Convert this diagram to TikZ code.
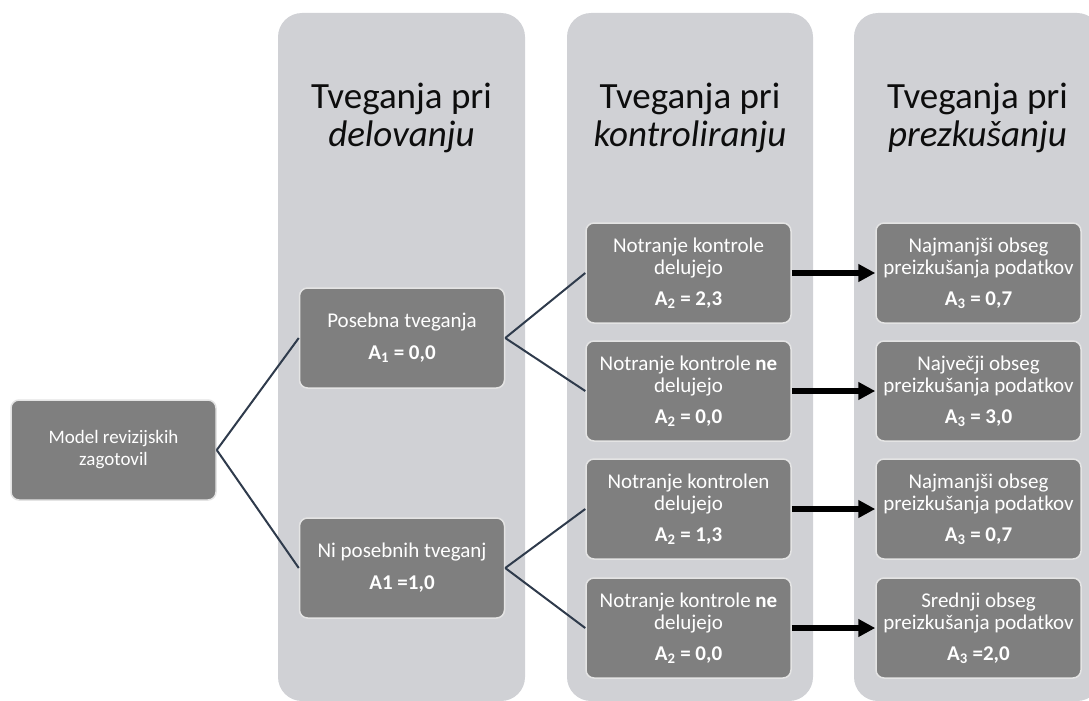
\documentclass[tikz,border=0pt]{standalone}
\usepackage{fontspec}
\setmainfont{Carlito}
\usepackage{tikz}
\usetikzlibrary{arrows.meta}

\definecolor{colgray}{HTML}{D0D1D5}
\definecolor{boxgray}{HTML}{7F7F7F}
\definecolor{boxedge}{HTML}{E4E4E4}
\definecolor{linenavy}{HTML}{2F3B4C}

\begin{document}
\begin{tikzpicture}[x=1pt,y=-1pt,
  column/.style={fill=colgray,rounded corners=24pt},
  title/.style={align=center,text=black!95,font=\fontsize{37}{38}\selectfont},
  box/.style={fill=boxgray,draw=boxedge,line width=1.5pt,rounded corners=8pt,
    minimum width=205pt,minimum height=100pt,inner sep=0pt,
    text=white,align=center,font=\fontsize{21}{22}\selectfont},
  link/.style={draw=linenavy,line width=2pt},
  push/.style={line width=6pt,-{Triangle[length=17pt,width=17pt]}}]
\useasboundingbox (0,0) rectangle (1089,701);
\clip (0,0) rectangle (1089,701);

% Columns
\fill[column] (278,13) rectangle (525,701);
\fill[column] (567,13) rectangle (813,701);
\fill[column] (854,13) rectangle (1101,701);

% Titles
\node[title] (t1) at (401.5,118) {Tveganja pri\\\textit{delovanju}};
\node[title] (t2) at (690,118) {Tveganja pri\\\textit{kontroliranju}};
\node[title] (t3) at (977.5,118) {Tveganja pri\\\textit{prezkušanju}};

% Root and first level
\node[box,font=\fontsize{19}{22}\selectfont] (model) at (113.5,450) {Model revizijskih\\zagotovil};
\node[box] (posebna) at (402,338) {Posebna tveganja\\[10pt]\textbf{A\textsubscript{1} = 0,0}};
\node[box] (niposeb) at (402,568) {Ni posebnih tveganj\\[10pt]\textbf{A1 =1,0}};

% Controls
\node[box] (k1) at (688.5,273) {Notranje kontrole\\delujejo\\[9pt]\textbf{A\textsubscript{2} = 2,3}};
\node[box] (k2) at (688.5,391) {Notranje kontrole \textbf{ne}\\delujejo\\[9pt]\textbf{A\textsubscript{2} = 0,0}};
\node[box] (k3) at (688.5,509) {Notranje kontrolen\\delujejo\\[9pt]\textbf{A\textsubscript{2} = 1,3}};
\node[box] (k4) at (688.5,628) {Notranje kontrole \textbf{ne}\\delujejo\\[9pt]\textbf{A\textsubscript{2} = 0,0}};

% Testing
\node[box] (p1) at (978.5,273) {Najmanjši obseg\\preizkušanja podatkov\\[9pt]\textbf{A\textsubscript{3} = 0,7}};
\node[box] (p2) at (978.5,391) {Največji obseg\\preizkušanja podatkov\\[9pt]\textbf{A\textsubscript{3} = 3,0}};
\node[box] (p3) at (978.5,509) {Najmanjši obseg\\preizkušanja podatkov\\[9pt]\textbf{A\textsubscript{3} = 0,7}};
\node[box] (p4) at (978.5,628) {Srednji obseg\\preizkušanja podatkov\\[9pt]\textbf{A\textsubscript{3} =2,0}};

% Tree lines
\draw[link] (model.east) -- (posebna.west);
\draw[link] (model.east) -- (niposeb.west);
\draw[link] (posebna.east) -- (k1.west);
\draw[link] (posebna.east) -- (k2.west);
\draw[link] (niposeb.east) -- (k3.west);
\draw[link] (niposeb.east) -- (k4.west);

% Arrows
\foreach \i in {1,...,4}
  \draw[push] (k\i.east) -- (p\i.west);
\end{tikzpicture}
\end{document}
